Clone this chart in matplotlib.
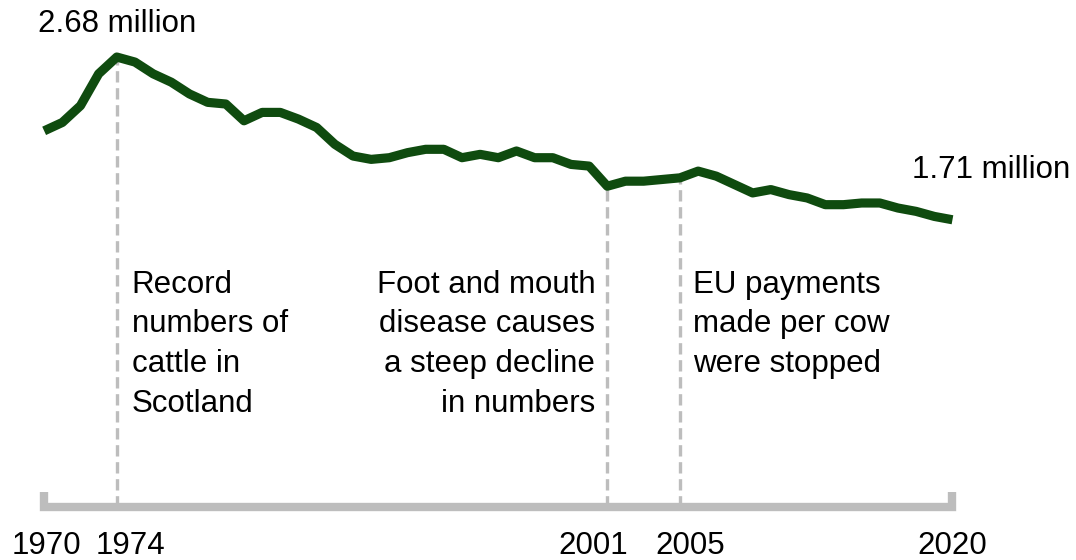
#! /usr/bin/env python3
# line chart of cattle numbers in Scotland, 1970 to 2020, with annotated events
import matplotlib
matplotlib.use("Agg")
import matplotlib.pyplot as plt

years = list(range(1970, 2021))
cattle_millions = [
    2.24, 2.29, 2.39, 2.58, 2.68, 2.65, 2.58, 2.53, 2.46, 2.41,
    2.40, 2.30, 2.35, 2.35, 2.31, 2.26, 2.16, 2.09, 2.07, 2.08,
    2.11, 2.13, 2.13, 2.08, 2.10, 2.08, 2.12, 2.08, 2.08, 2.04,
    2.03, 1.91, 1.94, 1.94, 1.95, 1.96, 2.00, 1.97, 1.92, 1.87,
    1.89, 1.86, 1.84, 1.80, 1.80, 1.81, 1.81, 1.78, 1.76, 1.73,
    1.71,
]
event_years = [1974, 2001, 2005]
event_notes = [
    "Record\nnumbers of\ncattle in\nScotland",
    "Foot and mouth\ndisease causes\na steep decline\nin numbers",
    "EU payments\nmade per cow\nwere stopped",
]
tick_years = [1970, 1974, 2001, 2005, 2020]
start_label = "2.68 million"
end_label = "1.71 million"

LINE = "#0F4B0F"
GREY = "#BDBDBD"
FONT = "Liberation Sans"
SIZE = 22.5

plt.rcParams["font.family"] = [FONT, "DejaVu Sans"]

fig = plt.figure(figsize=(10.76, 5.6), dpi=100)
ax = fig.add_axes([0, 0, 1, 1])
ax.set_xlim(1967.57, 2026.80)
ax.set_ylim(-0.318, 3.02)
ax.axis("off")

# dashed markers for the events, from the line down to the axis
for yr in event_years:
    val = cattle_millions[years.index(yr)]
    ax.plot([yr, yr], [0, val], color=GREY, lw=2.4, dashes=(3.4, 1.7),
            zorder=1, dash_capstyle="butt")

# bracket-shaped baseline
cap = 0.085
ax.plot([years[0], years[0], years[-1], years[-1]], [cap, 0, 0, cap],
        color=GREY, lw=6, solid_joinstyle="miter", solid_capstyle="butt",
        clip_on=False, zorder=2)

ax.plot(years, cattle_millions, color=LINE, lw=6.6, solid_joinstyle="round",
        solid_capstyle="butt", zorder=3)

# end labels
ax.annotate(start_label, xy=(years[4], cattle_millions[4]), xytext=(0, 25),
            textcoords="offset pixels", ha="center", va="baseline",
            fontsize=SIZE, color="black")
ax.annotate(end_label, xy=(years[-1], cattle_millions[-1]), xytext=(-40, 42),
            textcoords="offset pixels", ha="left", va="baseline",
            fontsize=SIZE, color="black")

# event notes
note_style = [("left", 15), ("right", -12), ("left", 13)]
for yr, note, (ha, dx) in zip(event_years, event_notes, note_style):
    ax.annotate(note, xy=(yr, 0), xytext=(dx, 237), textcoords="offset pixels",
                ha=ha, va="top", multialignment=ha, linespacing=1.42,
                fontsize=SIZE, color="black")

# year labels under the axis, nudged apart where they crowd
tick_dx = [2, 14, -14, 10, 0]
for yr, dx in zip(tick_years, tick_dx):
    ax.annotate(str(yr), xy=(yr, 0), xytext=(dx, -47), textcoords="offset pixels",
                ha="center", va="baseline", fontsize=SIZE, color="black",
                annotation_clip=False)

plt.savefig("out.png", dpi=100)
plt.close("all")
